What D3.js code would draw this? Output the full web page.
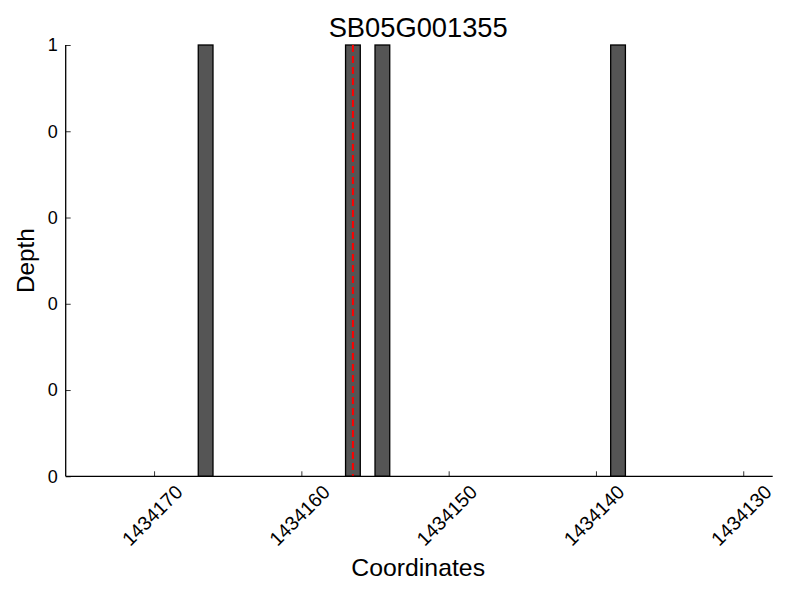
<!DOCTYPE html>
<html><head><meta charset="utf-8">
<script src="https://cdn.jsdelivr.net/npm/d3@7"></script>
<style>body{margin:0;background:#fff}text{font-family:"Liberation Sans",Arial,sans-serif}</style>
</head><body><svg id="c" width="800" height="600"></svg>
<script>
const title = "SB05G001355";
const positions = [1434167, 1434157, 1434155, 1434139];
const depths = [1, 1, 1, 1];
const markerPos = [1434156.5];
const xDomain = [1434176, 1434128];
const xTicks = [1434170, 1434160, 1434150, 1434140, 1434130];
const yTicks = [0, 0.2, 0.4, 0.6, 0.8, 1];
const yTickLabels = ["0", "0", "0", "0", "0", "1"];

const svg = d3.select("#c");
const L = 65.7, R = 772.7, T = 45, B = 476.3;
const x = d3.scaleLinear().domain(xDomain).range([L, R]);
const y = d3.scaleLinear().domain([0, 1]).range([B, T]);

svg.append("g").selectAll("rect").data(positions).join("rect")
  .attr("x", (d) => x(d)).attr("width", (d, i) => x(d - 1) - x(d))
  .attr("y", (d, i) => y(depths[i])).attr("height", (d, i) => y(0) - y(depths[i]))
  .attr("fill", "#555555").attr("stroke", "#000").attr("stroke-width", 1.3);

svg.append("g").selectAll("line").data(markerPos).join("line")
  .attr("x1", (d) => x(d)).attr("x2", (d) => x(d)).attr("y1", T).attr("y2", B)
  .attr("stroke", "#ff0000").attr("stroke-width", 2).attr("stroke-dasharray", "7,4");

const xAxis = svg.append("g").attr("transform", `translate(0,${B})`)
  .call(d3.axisBottom(x).tickValues(xTicks).tickSize(-5).tickFormat(""));
xAxis.select(".domain").attr("d", `M${L},0H${R}`).attr("stroke-width", 1.3);
xAxis.selectAll(".tick line").attr("stroke-width", 0.8);
svg.append("g").selectAll("text").data(xTicks).join("text")
  .attr("transform", (d) => `translate(${x(d) - 2},${B + 39}) rotate(-45)`)
  .attr("text-anchor", "middle").attr("dominant-baseline", "central")
  .attr("font-size", 19.5).text((d) => d);

const yAxis = svg.append("g").attr("transform", `translate(${L},0)`)
  .call(d3.axisLeft(y).tickValues(yTicks).tickSize(-5).tickFormat((d, i) => yTickLabels[i]).tickPadding(8));
yAxis.select(".domain").attr("d", `M0,${T}V${B}`).attr("stroke-width", 1.3);
yAxis.selectAll(".tick line").attr("stroke-width", 0.8);
yAxis.selectAll(".tick text").attr("font-size", 18).attr("fill", "#000");

svg.append("text").attr("x", (L + R) / 2 - 1).attr("y", 37).attr("text-anchor", "middle")
  .attr("font-size", 27.3).text(title);
svg.append("text").attr("x", (L + R) / 2 - 1).attr("y", 576).attr("text-anchor", "middle")
  .attr("font-size", 24.8).text("Coordinates");
svg.append("text").attr("transform", `translate(34,${(T + B) / 2}) rotate(-90)`)
  .attr("text-anchor", "middle").attr("font-size", 24.3).text("Depth");
</script></body></html>
